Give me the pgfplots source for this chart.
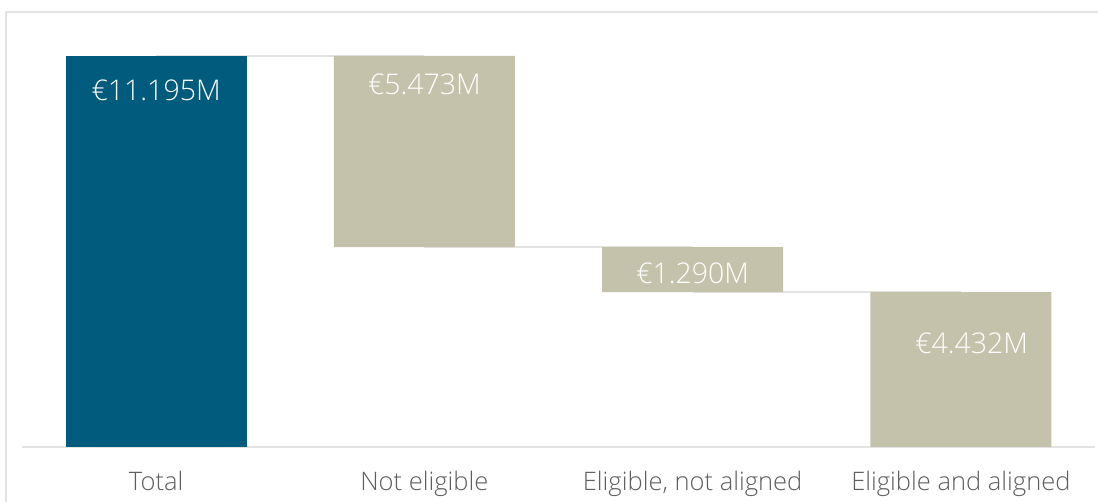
\documentclass[border=0pt]{standalone}
\usepackage{fontspec}
\setmainfont{Open Sans}[UprightFont=* Light]
\usepackage{pgfplots}
\pgfplotsset{compat=1.18}
\definecolor{cTotal}{HTML}{015B7C}
\definecolor{cGrey}{HTML}{C4C2AB}
\definecolor{cLine}{HTML}{E3E3E3}
\definecolor{cFrame}{HTML}{E2E2E2}
\definecolor{cText}{HTML}{605E5C}
\pgfplotsset{
  wfbase/.style={
    at={(22pt,55pt)}, anchor=south west, scale only axis,
    width=1073pt, height=391pt,
    xmin=-0.5, xmax=3.5, ymin=0, ymax=11.195,
    clip=false,
  }
}
\begin{document}
\begin{tikzpicture}
\useasboundingbox (0pt,0pt) rectangle (1098pt,502pt);
\draw[cFrame, line width=1.6pt] (6pt,-5pt) -- (6pt,490pt) -- (1105pt,490pt);
% connector lines
\begin{axis}[wfbase, axis lines=none]
  \addplot[cLine, line width=1.6pt, mark=none] coordinates {(0,11.195) (1,11.195)};
  \addplot[cLine, line width=1.6pt, mark=none] coordinates {(1,5.722) (2,5.722)};
  \addplot[cLine, line width=1.6pt, mark=none] coordinates {(2,4.432) (3,4.432)};
\end{axis}
% bars
\begin{axis}[wfbase, ybar stacked, bar width=181pt,
  axis x line=bottom, axis y line=none,
  x axis line style={-, cLine, line width=1.6pt},
  xtick={0,1,2,3},
  xticklabels={Total, Not eligible, {Eligible, not aligned}, Eligible and aligned},
  major tick length=0pt,
  xticklabel style={anchor=base, yshift=-44pt, text=cText, font=\fontsize{25.5}{29}\selectfont},
  ]
  \addplot[fill=none, draw=none] coordinates {(0,0) (1,5.722) (2,4.432) (3,0)};
  \addplot[fill=cTotal, draw=none] coordinates {(0,11.195) (1,0) (2,0) (3,0)};
  \addplot[fill=cGrey, draw=none] coordinates {(0,0) (1,5.473) (2,1.290) (3,4.432)};
\end{axis}
% value labels
\begin{axis}[wfbase, axis lines=none]
  \addplot[draw=none, mark=none, nodes near coords, point meta=explicit symbolic,
    nodes near coords style={anchor=center, text=white, font=\fontsize{28.5}{32}\selectfont}]
    coordinates {(0,10.22) [€11.195M] (1,10.39) [€5.473M] (2,4.98) [€1.290M] (3.04,2.98) [€4.432M]};
\end{axis}
\end{tikzpicture}
\end{document}
